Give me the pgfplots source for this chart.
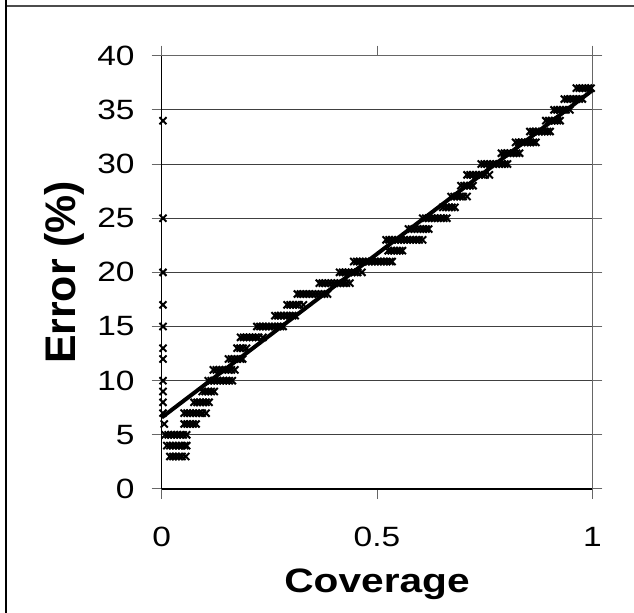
\documentclass[border=0pt]{standalone}
\usepackage{pgfplots}
\pgfplotsset{compat=1.18}
\usepackage{fontspec}
\setmainfont{Liberation Sans}[FakeStretch=1.2]
\newfontfamily\plainsans{Liberation Sans}

\begin{document}
\begin{tikzpicture}[x=1bp,y=1bp]
\useasboundingbox (0,0) rectangle (634,613);
% outer frame (only top and left edges show)
\draw[black!70, line width=2bp] (6,607) -- (634,607);
\draw[black, line width=2bp] (6,613) -- (6,0);
\begin{axis}[
    at={(161.7bp,124bp)}, anchor=south west,
    scale only axis,
    width=430.6bp, height=433.3bp,
    xmin=0, xmax=1, ymin=0, ymax=40,
    xtick={0,0.5,1}, ytick={0,5,...,40},
    xticklabels={0,0.5,1},
    tick align=outside,
    major tick length=10bp,
    tick style={black!60, line width=1bp},
    axis line style={black!60, line width=1.5bp},
    ymajorgrids,
    grid style={black!75, line width=1bp},
    clip=false,
    /pgf/number format/assume math mode=true,
    ticklabel style={font=\fontsize{28}{32}\selectfont},
    xticklabel style={anchor=base, inner sep=0pt, yshift=-47bp},
    yticklabel style={anchor=east, inner sep=0pt, xshift=-17bp},
    xlabel={Coverage},
    ylabel={Error (\%)},
    xlabel style={font=\bfseries\fontsize{34}{38}\selectfont,
        at={(axis description cs:0.5,0)}, anchor=base, yshift=-103bp},
    ylabel style={font=\plainsans\bfseries\fontsize{43}{48}\selectfont,
        at={(axis description cs:-0.201,0.5)}, anchor=base},
]
\draw[black, line width=1.5bp] (rel axis cs:0,0) -- (rel axis cs:0,1);
\draw[black, line width=1.5bp] (rel axis cs:0,0) -- (rel axis cs:1,0);

\addplot[only marks, mark=x, mark size=5bp, mark options={line width=2bp, black}] coordinates {
(0.003,34) (0.003,25) (0.003,20) (0.003,17) (0.003,15) (0.003,13) (0.003,12)
(0.003,10) (0.003,9) (0.003,8) (0.003,7) (0.006,6)
(0.008,5) (0.015,5) (0.022,5) (0.029,5) (0.036,5) (0.043,5) (0.050,5) (0.058,5)
(0.012,4) (0.019,4) (0.026,4) (0.033,4) (0.040,4) (0.047,4) (0.054,4) (0.058,4)
(0.019,3) (0.026,3) (0.033,3) (0.040,3) (0.047,3) (0.056,3)
(0.052,6) (0.059,6) (0.066,6) (0.073,6) (0.080,6)
(0.052,7) (0.059,7) (0.066,7) (0.073,7) (0.080,7) (0.087,7) (0.094,7) (0.103,7)
(0.075,8) (0.082,8) (0.089,8) (0.096,8) (0.103,8) (0.110,8)
(0.094,9) (0.101,9) (0.108,9) (0.115,9) (0.122,9)
(0.108,10) (0.115,10) (0.122,10) (0.129,10) (0.136,10) (0.143,10) (0.150,10) (0.157,10) (0.164,10)
(0.120,11) (0.127,11) (0.134,11) (0.141,11) (0.148,11) (0.155,11) (0.162,11) (0.170,11)
(0.155,12) (0.162,12) (0.169,12) (0.176,12) (0.183,12) (0.188,12)
(0.175,13) (0.182,13) (0.189,13) (0.197,13)
(0.183,14) (0.190,14) (0.197,14) (0.204,14) (0.211,14) (0.218,14) (0.225,14) (0.235,14)
(0.221,15) (0.228,15) (0.235,15) (0.242,15) (0.249,15) (0.256,15) (0.263,15) (0.270,15) (0.276,15) (0.282,15)
(0.263,16) (0.270,16) (0.277,16) (0.284,16) (0.291,16) (0.298,16) (0.304,16) (0.310,16)
(0.291,17) (0.298,17) (0.305,17) (0.312,17) (0.319,17) (0.329,17)
(0.315,18) (0.322,18) (0.329,18) (0.336,18) (0.343,18) (0.350,18) (0.357,18) (0.364,18) (0.371,18) (0.378,18) (0.385,18)
(0.366,19) (0.373,19) (0.380,19) (0.387,19) (0.394,19) (0.401,19) (0.408,19) (0.415,19) (0.422,19) (0.429,19) (0.437,19)
(0.413,20) (0.420,20) (0.427,20) (0.434,20) (0.441,20) (0.448,20) (0.455,20) (0.465,20)
(0.446,21) (0.453,21) (0.460,21) (0.467,21) (0.474,21) (0.481,21) (0.488,21) (0.495,21) (0.502,21) (0.509,21) (0.516,21) (0.523,21) (0.530,21) (0.535,21)
(0.526,22) (0.533,22) (0.540,22) (0.547,22) (0.553,22) (0.559,22)
(0.521,23) (0.528,23) (0.535,23) (0.542,23) (0.549,23) (0.556,23) (0.563,23) (0.570,23) (0.577,23) (0.584,23) (0.591,23) (0.598,23) (0.606,23)
(0.573,24) (0.580,24) (0.587,24) (0.594,24) (0.601,24) (0.608,24) (0.614,24) (0.620,24)
(0.606,25) (0.613,25) (0.620,25) (0.627,25) (0.634,25) (0.641,25) (0.648,25) (0.655,25) (0.662,25)
(0.653,26) (0.660,26) (0.667,26) (0.674,26) (0.681,26)
(0.672,27) (0.679,27) (0.686,27) (0.693,27) (0.700,27) (0.709,27)
(0.695,28) (0.702,28) (0.709,28) (0.716,28) (0.723,28)
(0.709,29) (0.716,29) (0.723,29) (0.730,29) (0.737,29) (0.744,29) (0.751,29) (0.761,29)
(0.742,30) (0.749,30) (0.756,30) (0.763,30) (0.770,30) (0.777,30) (0.784,30) (0.791,30) (0.797,30) (0.803,30)
(0.789,31) (0.796,31) (0.803,31) (0.810,31) (0.817,31) (0.824,31) (0.831,31)
(0.822,32) (0.829,32) (0.836,32) (0.843,32) (0.850,32) (0.857,32) (0.863,32) (0.869,32)
(0.855,33) (0.862,33) (0.869,33) (0.876,33) (0.883,33) (0.890,33) (0.896,33) (0.902,33)
(0.892,34) (0.899,34) (0.906,34) (0.913,34) (0.919,34) (0.925,34)
(0.911,35) (0.918,35) (0.925,35) (0.932,35) (0.939,35) (0.948,35)
(0.935,36) (0.942,36) (0.949,36) (0.956,36) (0.963,36) (0.970,36) (0.977,36)
(0.963,37) (0.970,37) (0.977,37) (0.984,37) (0.991,37) (0.997,37)
};
% linear trend line
\addplot[black, line width=4bp, no marks] coordinates {(0,6.6) (1,36.8)};
\end{axis}
\end{tikzpicture}
\end{document}
